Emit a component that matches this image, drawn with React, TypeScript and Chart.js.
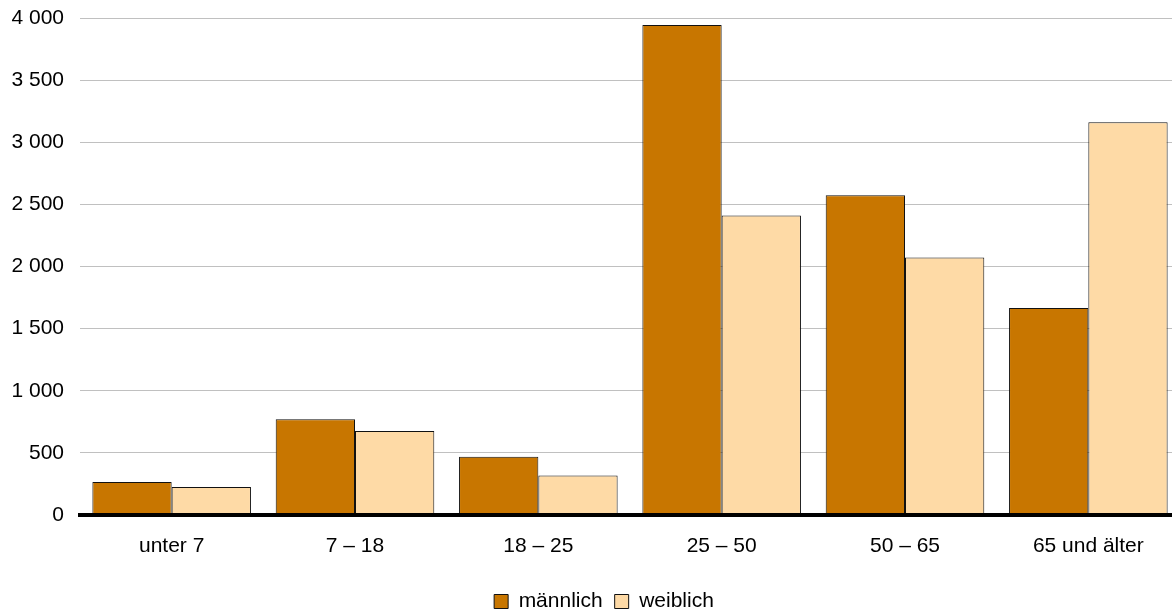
import React, { useEffect, useRef } from "react";
import { Chart, registerables } from "chart.js";

Chart.register(...registerables);

const categories = ["unter 7", "7 – 18", "18 – 25", "25 – 50", "50 – 65", "65 und älter"];
const maleValues = [265, 770, 468, 3944, 2573, 1665];
const femaleValues = [225, 677, 318, 2411, 2073, 3161];
const seriesNames = ["männlich", "weiblich"];

const fmt = (v: number) => String(v).replace(/\B(?=(\d{3})+(?!\d))/g, " ");

const axisLinePlugin = {
  id: "axisLineOnTop",
  afterDatasetsDraw(chart: any) {
    const { ctx, chartArea, scales } = chart;
    const y = scales.y.getPixelForValue(0);
    ctx.save();
    ctx.strokeStyle = "#000";
    ctx.lineWidth = 4;
    ctx.beginPath();
    ctx.moveTo(chartArea.left - 2, y);
    ctx.lineTo(chartArea.right, y);
    ctx.stroke();
    ctx.restore();
  },
};

export default function App() {
  const ref = useRef<HTMLCanvasElement | null>(null);
  useEffect(() => {
    if (!ref.current) return;
    const font = { family: "'Liberation Sans', Arial, sans-serif", size: 21 };
    const chart = new Chart(ref.current, {
      type: "bar",
      data: {
        labels: categories,
        datasets: [
          {
            label: seriesNames[0],
            data: maleValues,
            backgroundColor: "#C87600",
            borderColor: "#111",
            borderWidth: 1,
            categoryPercentage: 0.865,
            barPercentage: 1,
          },
          {
            label: seriesNames[1],
            data: femaleValues,
            backgroundColor: "#FEDAA6",
            borderColor: "#111",
            borderWidth: 1,
            categoryPercentage: 0.865,
            barPercentage: 1,
          },
        ],
      },
      options: {
        animation: false,
        responsive: false,
        maintainAspectRatio: false,
        layout: { padding: { top: 0, right: 0, bottom: -7, left: 0 } },
        plugins: {
          legend: {
            position: "bottom",
            labels: {
              font,
              color: "#000",
              boxWidth: 14,
              boxHeight: 14,
              padding: 12,
            },
          },
          tooltip: { enabled: false },
        },
        scales: {
          x: {
            grid: { display: false },
            border: { display: false },
            ticks: { font, color: "#000", padding: 11 },
            afterFit: (s: any) => {
              s.height = 64;
            },
          },
          y: {
            min: 0,
            max: 4000,
            ticks: {
              stepSize: 500,
              font,
              color: "#000",
              padding: 16,
              callback: (v: any) => fmt(Number(v)),
            },
            grid: { color: "#c0c0c0", lineWidth: 1, drawTicks: false },
            border: { display: false },
            afterFit: (s: any) => {
              s.width = 80;
              s.paddingTop = 18;
              s.paddingBottom = 0;
            },
          },
          spacer: {
            type: "linear",
            position: "right",
            display: true,
            grid: { display: false },
            border: { display: false },
            ticks: { display: false },
            afterFit: (s: any) => {
              s.width = 28;
              s.paddingTop = 0;
              s.paddingBottom = 0;
            },
          },
        },
      },
      plugins: [axisLinePlugin],
    });
    return () => chart.destroy();
  }, []);
  return (
    <div style={{ position: "fixed", left: 0, top: 0, width: 1208, height: 615, background: "#fff" }}>
      <canvas ref={ref} width={1208} height={615} style={{ display: "block" }} />
    </div>
  );
}
